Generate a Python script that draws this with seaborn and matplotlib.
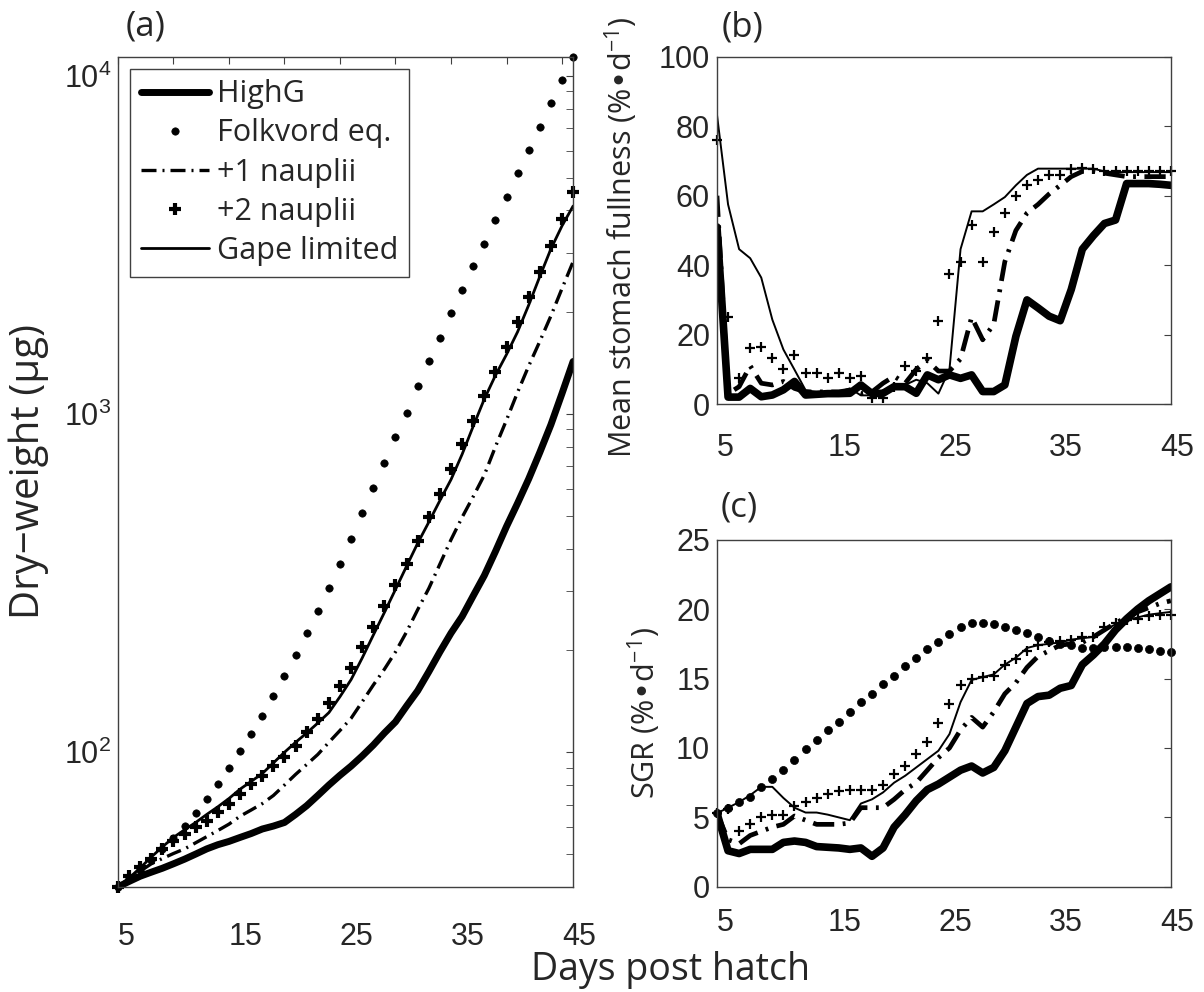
import numpy as np
import pandas as pd
import matplotlib
matplotlib.use('Agg')
import matplotlib.pyplot as plt
from matplotlib.ticker import LogLocator, NullFormatter
import seaborn as sns

# -------------------------
# Data (days 5..46)
# -------------------------
days = list(range(5, 47))

# (a) dry weight (ug)
dw_highg = [40, 41.5, 43, 44.2, 45.4, 46.8, 48.3, 50, 51.8, 53.3, 54.5, 56, 57.5, 59.3,
            60.5, 62, 65.5, 69.5, 74.5, 80, 85.5, 91, 97.5, 105, 114, 123, 137, 152,
            173, 198, 225, 252, 290, 333, 392, 465, 545, 643, 770, 930, 1150, 1430]
dw_folk = [40, 42.5, 45, 48, 51.7, 55.7, 60.4, 66, 72.6, 80.4, 89.8, 101, 113, 128,
           147, 168, 194, 225, 261, 305, 360, 427, 509, 604, 716, 855, 1010, 1210,
           1430, 1680, 1990, 2330, 2740, 3180, 3750, 4390, 5170, 6040, 7060, 8320,
           9730, 11370]
dw_n1 = [40, 42.3, 44.5, 46.8, 48.5, 50.2, 51.8, 54, 56.3, 58.7, 61.3, 64.7, 67.5, 70.5,
         74.5, 80, 86, 92, 98.5, 107, 116, 126, 141, 158, 176, 198, 227, 264, 305, 360,
         425, 495, 570, 660, 800, 960, 1160, 1387, 1640, 1950, 2350, 2820]
dw_n2 = [40, 43, 45.7, 48.2, 51.7, 54.5, 57.2, 60, 62.5, 66.4, 70.2, 75.1, 80.4, 84.9,
         90.9, 96.7, 104, 115, 125, 140, 157, 178, 205, 234, 270, 312, 360, 421, 495,
         580, 687, 815, 953, 1130, 1330, 1580, 1870, 2220, 2630, 3140, 3780, 4540]
dw_gape = [40, 42.5, 45.5, 49, 52.5, 56, 59, 62, 65.5, 69, 73, 77.8, 82, 86.5, 93, 100,
           107, 114, 122, 131, 146, 164, 190, 222, 259, 303, 355, 415, 479, 555, 640,
           760, 920, 1107, 1300, 1500, 1750, 2100, 2550, 3077, 3600, 4120]

# (b) mean stomach fullness
sf_highg = [51, 2, 2, 4.5, 2.1, 2.6, 4.1, 6.5, 2.6, 2.8, 3, 3, 3.1, 5.5, 3, 3.1, 5, 5,
            3.1, 8.4, 7, 8.4, 7.4, 8.4, 3.6, 3.6, 5.5, 19.5, 30, 27.7, 25.3, 24, 33,
            44.6, 48.5, 52, 53, 63.5, 63.5, 63.5, 63.3, 63]
sf_n1 = [60, 3, 5, 11, 6, 5.5, 6.5, 4.5, 3.5, 3.5, 3.5, 3.5, 4, 3, 3.5, 6, 8, 6, 10,
         12.5, 9.5, 9.5, 13, 25, 18.5, 23, 41, 50, 55, 57.5, 60.5, 63, 65.5, 67, 67,
         66.5, 66, 65.5, 65.5, 65.5, 65.5, 65.5]
sf_n2 = [76, 25, 7.5, 16, 16.5, 13.3, 10, 14, 9, 9, 7.5, 9, 7.5, 8, 1.6, 1.6, 5, 11,
         9.5, 13.3, 24, 37.5, 41, 51.7, 40.8, 49.5, 55, 60, 63, 64.5, 66, 66, 67.8, 68,
         67.8, 67.2, 67, 67, 67, 67, 67, 67]
sf_gape = [83.3, 57.5, 44.6, 42, 36.4, 24.3, 15.7, 9.9, 4, 3.5, 3.5, 3.5, 4.5, 2.5, 2.5,
           4, 5, 5.5, 7, 6, 3, 10, 44.6, 55.5, 55.5, 57.5, 59.6, 63, 66, 67.8, 67.8,
           67.8, 67.8, 67.8, 67.8, 67, 66.8, 66.8, 66.8, 66.8, 66.8, 66.8]

# (c) specific growth rate
sgr_highg = [5.3, 2.6, 2.4, 2.7, 2.7, 2.7, 3.2, 3.3, 3.2, 2.9, 2.85, 2.8, 2.7, 2.8, 2.2,
             2.8, 4.3, 5.2, 6.2, 7.0, 7.4, 7.9, 8.4, 8.7, 8.2, 8.6, 9.8, 11.5, 13.2, 13.7,
             13.8, 14.3, 14.5, 16.0, 16.7, 17.5, 18.5, 19.3, 20.0, 20.6, 21.1, 21.6]
sgr_folk = [5.3, 5.7, 6.1, 6.5, 7.2, 7.8, 8.4, 9.1, 9.9, 10.6, 11.3, 11.9, 12.6, 13.3,
            13.9, 14.6, 15.2, 15.9, 16.5, 17.1, 17.6, 18.2, 18.7, 19.0, 19.0, 18.9, 18.7,
            18.5, 18.3, 18.0, 17.7, 17.5, 17.4, 17.2, 17.2, 17.3, 17.3, 17.3, 17.2, 17.1,
            17.0, 16.9]
sgr_n1 = [5.3, 3.4, 3.1, 3.7, 4.0, 4.3, 4.5, 5.1, 4.8, 4.5, 4.5, 4.5, 4.6, 5.7, 5.7, 5.7,
          6.3, 7.0, 7.5, 8.4, 9.3, 10, 11.3, 12.2, 11.5, 12.6, 13.9, 14.7, 15.8, 16.6,
          17.0, 17.4, 17.5, 17.6, 18.0, 18.5, 19.0, 19.4, 19.8, 20.1, 20.4, 20.6]
sgr_n2 = [5.3, 5.6, 4.0, 4.5, 5.0, 5.2, 5.2, 5.8, 6.1, 6.4, 6.7, 6.9, 7.0, 7.0, 7.0, 7.3,
          8.1, 8.7, 9.6, 10.4, 11.8, 13.2, 14.5, 15.0, 15.1, 15.2, 16.0, 16.4, 17.0, 17.4,
          17.6, 17.7, 17.8, 18.0, 18.0, 18.7, 19.0, 19.2, 19.3, 19.5, 19.6, 19.6]
sgr_gape = [5.3, 5.7, 6.1, 6.6, 7.2, 7.2, 6.4, 5.7, 5.35, 5.35, 5.2, 5.0, 4.8, 6.0, 6.3,
            6.8, 7.5, 8.0, 8.6, 9.2, 9.8, 11, 13.3, 14.9, 15.1, 15.3, 16, 16.5, 17.2, 17.4,
            17.5, 17.6, 17.8, 17.9, 18.0, 18.5, 18.9, 19.2, 19.4, 19.6, 19.7, 19.8]

labels = ['HighG', 'Folkvord eq.', '+1 nauplii', '+2 nauplii', 'Gape limited']
x_labels = ['5', '', '15', '', '25', '', '35', '', '45']

# -------------------------
# Style
# -------------------------
sns.set_style('white')
plt.rcParams['font.family'] = ['Open Sans', 'DejaVu Sans']
plt.rcParams['mathtext.default'] = 'regular'
frame = '#404040'
tick_font = 'Liberation Sans'

fig = plt.figure(figsize=(12.04, 9.92), dpi=100)
ax_a = fig.add_axes([0.098, 0.106, 0.378, 0.837])
ax_b = fig.add_axes([0.5955, 0.5927, 0.377, 0.350])
ax_c = fig.add_axes([0.5955, 0.106, 0.377, 0.350])

dashdot = (0, (4.5, 1.8, 0.6, 1.8))


def line(ax, y, lw, ls='-', label=None):
    sns.lineplot(x=days, y=y, ax=ax, color='k', linewidth=lw, linestyle=ls,
                 errorbar=None, label=label)


def marks(ax, y, mk, ms, mew, label=None):
    sns.lineplot(x=days, y=y, ax=ax, color='k', linestyle='', marker=mk,
                 markersize=ms, markeredgewidth=mew, markeredgecolor='k',
                 markerfacecolor='k', errorbar=None, label=label, clip_on=False)


# -------------------------
# (a) Dry weight
# -------------------------
line(ax_a, dw_highg, 5, label=labels[0])
marks(ax_a, dw_folk, 'o', 5.3, 0.5, label=labels[1])
line(ax_a, dw_n1, 2.4, dashdot, label=labels[2])
marks(ax_a, dw_n2, '+', 9, 3, label=labels[3])
line(ax_a, dw_gape, 2, label=labels[4])

ax_a.set_yscale('log')
ax_a.set_ylim(40, 11400)
ax_a.set_yticks([1e2, 1e3, 1e4])
ax_a.set_yticklabels(['$10^{2}$', '$10^{3}$', '$10^{4}$'])
ax_a.yaxis.set_minor_locator(LogLocator(base=10, subs=np.arange(2, 10)))
ax_a.yaxis.set_minor_formatter(NullFormatter())
ax_a.set_xlim(5, 46)
ax_a.set_xticks(range(5, 46, 5))
ax_a.set_xticklabels(x_labels, ha='left')
ax_a.tick_params(axis='x', which='both', direction='in', top=True, length=5,
                 pad=25, labelsize=22, labelfontfamily=tick_font, color=frame)
ax_a.tick_params(axis='y', which='both', direction='in', right=True, length=5,
                 pad=5, labelsize=22, labelfontfamily=tick_font, color=frame)
ax_a.set_xlabel('')
ax_a.set_ylabel('Dry\u2212weight (\u03bcg)', fontsize=29)
ax_a.yaxis.set_label_coords(-0.152, 0.5)

h, l = ax_a.get_legend_handles_labels()
leg = ax_a.legend(h, l, loc='upper left', bbox_to_anchor=(0.026, 0.9855),
                  borderaxespad=0, fontsize=22, handlelength=2.25, handletextpad=0.25,
                  borderpad=0.35, labelspacing=0.3, fancybox=False, framealpha=1,
                  edgecolor=frame)
leg.get_frame().set_linewidth(1.0)

# -------------------------
# (b) Stomach fullness
# -------------------------
line(ax_b, sf_highg, 5.5)
line(ax_b, sf_n1, 3.4, dashdot)
marks(ax_b, sf_n2, '+', 6.5, 1.6)
line(ax_b, sf_gape, 1.4)
ax_b.set_ylim(0, 100)
ax_b.set_yticks(range(0, 101, 20))
ax_b.set_ylabel('Mean stomach fullness (%\u2022d$^{-1}$)', fontsize=22)
ax_b.yaxis.set_label_coords(-0.17, 0.48)

# -------------------------
# (c) SGR
# -------------------------
line(ax_c, sgr_highg, 5.5)
marks(ax_c, sgr_folk, 'o', 5.8, 0.5)
line(ax_c, sgr_n1, 3.4, dashdot)
marks(ax_c, sgr_n2, '+', 6.5, 1.6)
line(ax_c, sgr_gape, 1.4)
ax_c.set_ylim(0, 25)
ax_c.set_yticks(range(0, 26, 5))
ax_c.set_ylabel('SGR (%\u2022d$^{-1}$)', fontsize=22)
ax_c.yaxis.set_label_coords(-0.119, 0.5)

for ax, p in [(ax_b, 21), (ax_c, 15)]:
    ax.set_xlim(5, 46)
    ax.set_xticks([5, 15, 25, 35, 45])
    ax.set_xticklabels(['5', '15', '25', '35', '45'], ha='left')
    ax.set_xlabel('')
    ax.tick_params(axis='x', length=0, pad=p, labelsize=22, labelfontfamily=tick_font)
    ax.tick_params(axis='y', direction='in', right=True, length=5, pad=5,
                   labelsize=22, labelfontfamily=tick_font, color=frame)

for ax in [ax_a, ax_b, ax_c]:
    for s in ax.spines.values():
        s.set_color(frame)
        s.set_linewidth(1.0)

fig.text(0.121, 0.973, '(a)', fontsize=25, ha='center', va='center')
fig.text(0.617, 0.972, '(b)', fontsize=25, ha='center', va='center')
fig.text(0.614, 0.488, '(c)', fontsize=25, ha='center', va='center')
fig.text(0.557, 0.012, 'Days post hatch', fontsize=27, ha='center', va='baseline')

fig.savefig('out.png', dpi=100)
